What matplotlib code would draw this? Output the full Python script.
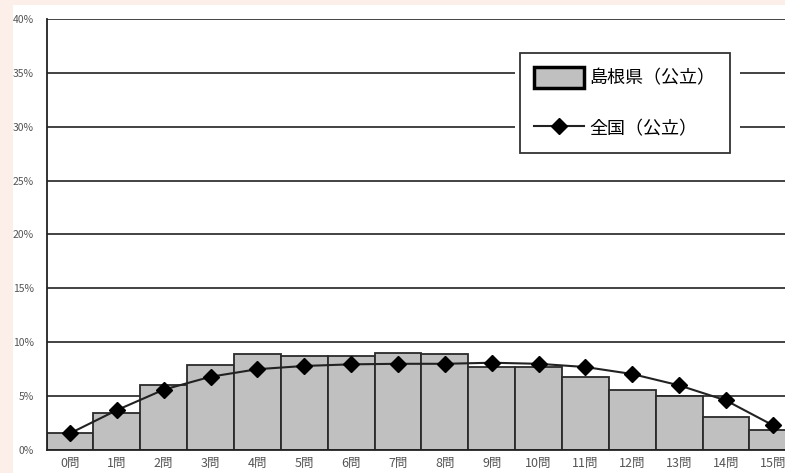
import matplotlib.pyplot as plt
from matplotlib.patches import Rectangle

plt.rcParams['font.family'] = ['Noto Sans CJK JP', 'DejaVu Sans']

# 正答数ごとの生徒の割合 (%)
labels = ['%d問' % i for i in range(16)]
shimane = [1.6, 3.4, 6.0, 7.9, 8.9, 8.7, 8.7, 9.0, 8.9, 7.7, 7.7, 6.75, 5.6, 5.0, 3.1, 1.85]
zenkoku = [1.55, 3.7, 5.6, 6.8, 7.5, 7.8, 7.95, 8.0, 8.0, 8.1, 8.0, 7.7, 7.05, 6.0, 4.6, 2.3]
yticks = [0, 5, 10, 15, 20, 25, 30, 35, 40]

fig = plt.figure(figsize=(7.85, 4.73), dpi=100)
fig.patch.set_facecolor('#fcefe9')
# 白い台紙
fig.add_artist(Rectangle((13 / 785, 0), 1, 1 - 5 / 473, transform=fig.transFigure,
                         facecolor='white', edgecolor='none', zorder=0))

ax = fig.add_axes([46.6 / 785, 1 - 450 / 473, (785 - 46.6) / 785, (450 - 19) / 473])
ax.set_facecolor('white')

x = list(range(16))
bars = ax.bar(x, shimane, width=1.0, color='#c0c0c0', edgecolor='#2a2a2a', linewidth=1.3,
              label='島根県（公立）', zorder=2)
line, = ax.plot(x, zenkoku, color='#222222', linewidth=1.5, marker='D', markersize=8.5,
                markerfacecolor='black', markeredgecolor='black', label='全国（公立）', zorder=3)

ax.set_xlim(-0.5, 15.26)
ax.set_ylim(0, 40)
ax.set_yticks(yticks)
ax.set_yticklabels(['%d%%' % v for v in yticks], fontsize=7.5, color='#555555')
ax.set_xticks(x)
ax.set_xticklabels(labels, fontsize=9, color='#555555')
ax.tick_params(length=0, pad=5)
ax.tick_params(axis='y', pad=9)
for v in yticks:
    ax.axhline(v, color='#222222', linewidth=1.2, zorder=1)

for s in ['top', 'right']:
    ax.spines[s].set_visible(False)
ax.spines['left'].set_color('#222222')
ax.spines['left'].set_linewidth(1.3)
ax.spines['bottom'].set_color('#222222')
ax.spines['bottom'].set_linewidth(1.3)

# 凡例の周りの余白
ax.add_patch(Rectangle((515 / 785, 1 - 162 / 473), 225 / 785, 118 / 473,
                       transform=fig.transFigure, facecolor='white', edgecolor='none', zorder=4))
leg = ax.legend([bars, line], ['島根県（公立）', '全国（公立）'],
                loc='upper left', bbox_to_anchor=((520 - 46.6) / 738.4, (450 - 52.7) / 431),
                fontsize=13, frameon=True, fancybox=False, edgecolor='#333333',
                framealpha=1, borderpad=0.8, labelspacing=1.65, handlelength=2.75,
                handleheight=1.4, handletextpad=0.3, borderaxespad=0)
leg.set_zorder(5)
leg.get_frame().set_linewidth(1.3)
leg.legend_handles[0].set_linewidth(2.5)
leg.legend_handles[0].set_edgecolor('black')

fig.savefig('out.png', dpi=100, facecolor=fig.get_facecolor())
